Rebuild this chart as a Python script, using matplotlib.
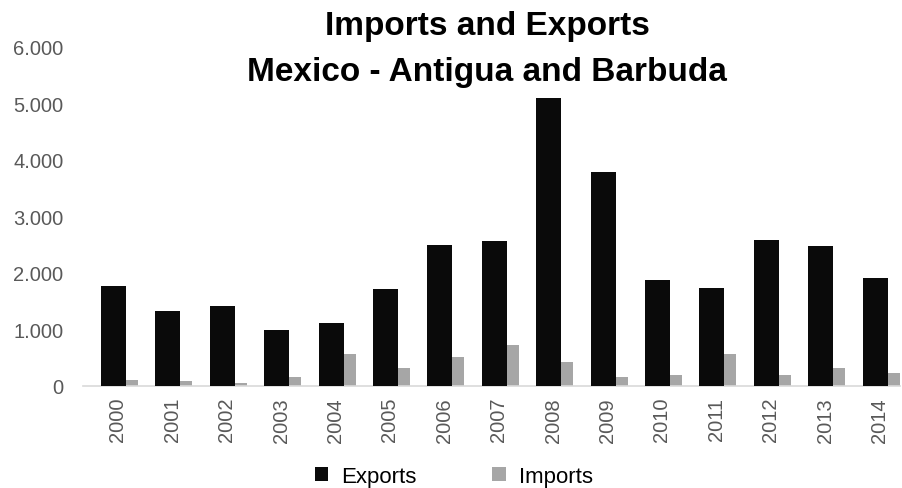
import numpy as np
import matplotlib.pyplot as plt
from matplotlib.patches import Patch
from matplotlib.ticker import FuncFormatter

years = ["2000", "2001", "2002", "2003", "2004", "2005", "2006", "2007",
         "2008", "2009", "2010", "2011", "2012", "2013", "2014"]
exports = [1760, 1330, 1420, 990, 1120, 1710, 2500, 2570,
           5100, 3790, 1870, 1740, 2580, 2480, 1910]
imports = [100, 90, 50, 160, 570, 310, 510, 730,
           430, 160, 190, 570, 200, 320, 220]

plt.rcParams["font.family"] = ["Liberation Sans", "DejaVu Sans"]

fig = plt.figure(figsize=(9.02, 4.89), dpi=100)
ax = fig.add_axes([0.092, 0.209, 0.906, 0.693])

x = np.arange(len(years))
ax.bar(x + 0.18, imports, 0.38, color="#a6a6a6", zorder=2)
ax.bar(x - 0.08, exports, 0.46, color="#0a0a0a", zorder=3)

ax.set_ylim(0, 6000)
ax.set_xlim(-0.64, 14.38)
ax.set_yticks(range(0, 6001, 1000))
ax.yaxis.set_major_formatter(FuncFormatter(lambda v, p: f"{int(v):,}".replace(",", ".")))
ax.set_xticks(x)
ax.set_xticklabels(years, rotation=90)
ax.tick_params(axis="both", length=0, labelsize=14.5, colors="#595959")
ax.tick_params(axis="y", pad=14)
ax.tick_params(axis="x", pad=8)

for side in ["top", "right", "left"]:
    ax.spines[side].set_visible(False)
ax.spines["bottom"].set_color("#d9d9d9")
ax.spines["bottom"].set_linewidth(1.2)

fig.text(0.540, 0.945, "Imports and Exports", ha="center", va="center",
         fontsize=24, fontweight="bold")
fig.text(0.540, 0.852, "Mexico - Antigua and Barbuda", ha="center", va="center",
         fontsize=24, fontweight="bold")

handles = [Patch(facecolor="#0a0a0a", label="Exports"),
           Patch(facecolor="#a6a6a6", label="Imports")]
fig.legend(handles=handles, loc="center", bbox_to_anchor=(0.503, 0.023), ncol=2,
           frameon=False, fontsize=16, handlelength=0.6, handleheight=0.6,
           columnspacing=3.4, handletextpad=0.6)

fig.savefig("out.png", dpi=100)
